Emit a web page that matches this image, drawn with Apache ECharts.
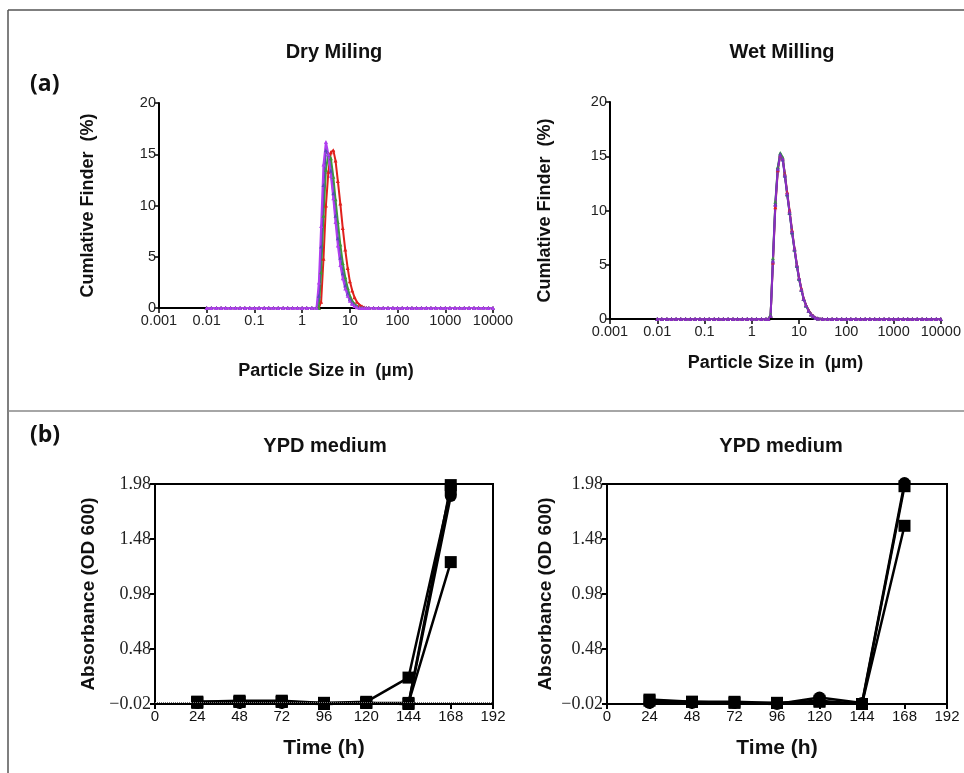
<!DOCTYPE html>
<html><head><meta charset="utf-8">
<script src="https://cdn.jsdelivr.net/npm/echarts@6/dist/echarts.min.js"></script>
<style>html,body{margin:0;padding:0;background:#fff}#c{width:964px;height:773px}</style>
</head><body><div id="c"></div>
<script>
// ---- particle size classes (µm) ----
const sizes = [
  0.01,0.0125,0.016,0.02,0.025,0.0315,0.04,0.05,0.063,0.08,
  0.1,0.125,0.16,0.2,0.25,0.315,0.4,0.5,0.63,0.8,
  1,1.25,1.6,
  2,2.24,2.5,2.8,3.15,3.55,4,4.5,5,5.6,6.3,7.1,8,9,
  10,11.2,12.5,14,16,18,20,22.4,
  25,31.5,40,50,63,80,
  100,125,160,200,250,315,400,500,630,800,
  1000,1250,1600,2000,2500,3150,4000,5000,6300,8000,
  10000
];
// ---- Dry milling (%) ----
const dryRed = [
  0,0,0,0,0,0,0,0,0,0, 0,0,0,0,0,0,0,0,0,0, 0,0,0,
  0,0,0.6,4.8,10.0,13.3,15.2,15.4,14.4,12.4,10.2,7.8,5.7,3.9,
  2.6,1.7,1.05,0.6,0.3,0.15,0.06,0,
  0,0,0,0,0,0, 0,0,0,0,0,0,0,0,0,0, 0,0,0,0,0,0,0,0,0,0, 0
];
const dryGreen = [
  0,0,0,0,0,0,0,0,0,0, 0,0,0,0,0,0,0,0,0,0, 0,0,0,
  0,0,3.5,9.0,13.5,15.0,14.6,12.8,10.6,8.4,6.2,4.4,3.0,1.95,
  1.2,0.7,0.4,0.2,0.08,0.03,0,0,
  0,0,0,0,0,0, 0,0,0,0,0,0,0,0,0,0, 0,0,0,0,0,0,0,0,0,0, 0
];
const dryBlue = [
  0,0,0,0,0,0,0,0,0,0, 0,0,0,0,0,0,0,0,0,0, 0,0,0,
  0,1.2,6.0,12.0,15.4,15.0,13.4,11.2,9.0,6.8,4.9,3.4,2.2,1.4,
  0.85,0.5,0.27,0.12,0.05,0,0,0,
  0,0,0,0,0,0, 0,0,0,0,0,0,0,0,0,0, 0,0,0,0,0,0,0,0,0,0, 0
];
const dryPurple = [
  0,0,0,0,0,0,0,0,0,0, 0,0,0,0,0,0,0,0,0,0, 0,0,0,
  0,2.5,8.0,14.0,16.2,15.0,12.9,10.7,8.4,6.1,4.2,2.9,1.9,1.2,
  0.7,0.4,0.2,0.08,0.03,0,0,0,
  0,0,0,0,0,0, 0,0,0,0,0,0,0,0,0,0, 0,0,0,0,0,0,0,0,0,0, 0
];
// ---- Wet milling (%) ----
const wetRed = [
  0,0,0,0,0,0,0,0,0,0, 0,0,0,0,0,0,0,0,0,0, 0,0,0,
  0,0,0.3,5.2,10.3,13.7,15.1,14.8,13.4,11.7,10.0,8.2,6.5,5.0,
  3.8,2.8,1.9,1.3,0.8,0.45,0.28,0.12,
  0.05,0,0,0,0,0, 0,0,0,0,0,0,0,0,0,0, 0,0,0,0,0,0,0,0,0,0, 0
];
const wetGreen = [
  0,0,0,0,0,0,0,0,0,0, 0,0,0,0,0,0,0,0,0,0, 0,0,0,
  0,0,0.4,5.6,10.8,14.0,15.3,14.9,13.3,11.5,9.8,8.0,6.4,4.9,
  3.7,2.7,1.85,1.25,0.75,0.42,0.25,0.1,
  0.04,0,0,0,0,0, 0,0,0,0,0,0,0,0,0,0, 0,0,0,0,0,0,0,0,0,0, 0
];
const wetBlue = [
  0,0,0,0,0,0,0,0,0,0, 0,0,0,0,0,0,0,0,0,0, 0,0,0,
  0,0,0.3,5.4,10.6,13.9,15.2,14.7,13.2,11.5,9.8,8.0,6.4,4.9,
  3.7,2.7,1.85,1.25,0.75,0.42,0.25,0.1,
  0.04,0,0,0,0,0, 0,0,0,0,0,0,0,0,0,0, 0,0,0,0,0,0,0,0,0,0, 0
];
const wetPurple = [
  0,0,0,0,0,0,0,0,0,0, 0,0,0,0,0,0,0,0,0,0, 0,0,0,
  0,0,0.3,5.3,10.5,13.8,15.1,14.8,13.3,11.6,9.9,8.1,6.5,5.0,
  3.8,2.75,1.9,1.3,0.78,0.44,0.26,0.11,
  0.05,0,0,0,0,0, 0,0,0,0,0,0,0,0,0,0, 0,0,0,0,0,0,0,0,0,0, 0
];
// ---- YPD growth (OD 600) ----
const timeH = [24,48,72,96,120,144,168];
const ypdL1 = [0.00,0.01,0.01,-0.01,0.00,0.22,1.93];
const ypdL2 = [-0.01,-0.01,-0.01,-0.02,-0.01,-0.02,1.87];
const ypdL3 = [0.00,0.00,0.00,-0.01,-0.01,-0.02,1.97];
const ypdL4 = [-0.01,0.00,0.00,-0.02,-0.01,-0.01,1.27];
const ypdR1 = [0.01,0.00,0.00,-0.01,0.00,-0.02,1.96];
const ypdR2 = [-0.01,-0.01,-0.01,-0.02,0.04,-0.01,1.99];
const ypdR3 = [0.02,0.00,-0.01,-0.01,0.01,-0.02,1.60];
const odTicks = [-0.02,0.48,0.98,1.48,1.98];

const SANS = 'Liberation Sans, Arial, sans-serif';
const SERIF = 'Liberation Serif, Times New Roman, serif';

const chart = echarts.init(document.getElementById('c'), null, {renderer:'canvas'});

function pairs(xs, ys){ return xs.map((x,i)=>[x, ys[i]]); }

function logX(gridIndex, nameGap){
  return {
    type:'log', logBase:10, min:0.001, max:10000, gridIndex,
    axisLine:{show:true, lineStyle:{color:'#000', width:2}},
    axisTick:{show:true, length:5, lineStyle:{color:'#000', width:1.5}},
    axisLabel:{color:'#222', fontSize:14.5, fontFamily:SANS, margin:5,
      formatter: v => String(+(+v).toPrecision(4))},
    splitLine:{show:false}, minorTick:{show:false},
    name:'Particle Size in  (µm)', nameLocation:'middle', nameGap,
    nameTextStyle:{fontFamily:SANS, fontWeight:'bold', fontSize:18, color:'#111'}
  };
}
function pctY(gridIndex, nameGap){
  return {
    type:'value', min:0, max:20, interval:5, gridIndex,
    axisLine:{show:true, lineStyle:{color:'#000', width:2}},
    axisTick:{show:true, length:5, lineStyle:{color:'#000', width:1.5}},
    axisLabel:{color:'#222', fontSize:14.5, fontFamily:SANS, margin:3},
    splitLine:{show:false},
    name:'Cumlative Finder  (%)', nameLocation:'middle', nameGap, nameRotate:90,
    nameTextStyle:{fontFamily:SANS, fontWeight:'bold', fontSize:18, color:'#111'}
  };
}
function timeX(gridIndex){
  return {
    type:'value', min:0, max:192, interval:24, gridIndex,
    axisLine:{show:true, onZero:false, lineStyle:{color:'#000', width:2}},
    axisTick:{show:true, length:5, lineStyle:{color:'#000', width:2}},
    axisLabel:{color:'#111', fontSize:15, fontFamily:SANS, margin:5},
    splitLine:{show:false},
    name:'Time (h)', nameLocation:'middle', nameGap:34,
    nameTextStyle:{fontFamily:SANS, fontWeight:'bold', fontSize:21, color:'#111'}
  };
}
function odY(gridIndex, nameGap){
  return {
    type:'value', min:-0.02, max:1.98, interval:0.5, gridIndex,
    axisLine:{show:true, lineStyle:{color:'#000', width:2}},
    axisTick:{show:true, length:5, lineStyle:{color:'#000', width:2}, customValues:odTicks},
    axisLabel:{color:'#222', fontSize:18, fontFamily:SERIF, margin:4, customValues:odTicks,
      formatter: v => (v < 0 ? '\u2212' : '') + Math.abs(v).toFixed(2)},
    splitLine:{show:false},
    name:'Absorbance (OD 600)', nameLocation:'middle', nameGap, nameRotate:90,
    nameTextStyle:{fontFamily:SANS, fontWeight:'bold', fontSize:19, color:'#111'}
  };
}
function psdSeries(xi, arr, color){
  return {type:'line', xAxisIndex:xi, yAxisIndex:xi, data:pairs(sizes, arr),
    symbol:'triangle', symbolSize:4, showSymbol:true,
    lineStyle:{color, width:2}, itemStyle:{color}, z:3};
}
function odSeries(xi, arr, sym, extra){
  return Object.assign({type:'line', xAxisIndex:xi, yAxisIndex:xi, data:pairs(timeH, arr),
    symbol:sym, symbolSize:12, clip:false,
    lineStyle:{color:'#000', width:2.5}, itemStyle:{color:'#000'}, z:4}, extra||{});
}

const titleStyle = {fontFamily:SANS, fontWeight:'bold', fontSize:20, color:'#111'};
const option = {
  animation:false,
  backgroundColor:'#fff',
  title:[
    {text:'Dry Miling', left:329, top:37, textAlign:'center', textStyle:titleStyle},
    {text:'Wet Milling', left:777, top:37, textAlign:'center', textStyle:titleStyle},
    {text:'YPD medium', left:320, top:431, textAlign:'center', textStyle:titleStyle},
    {text:'YPD medium', left:776, top:431, textAlign:'center', textStyle:titleStyle}
  ],
  grid:[
    {left:159, top:103, width:334, height:205},
    {left:610, top:102, width:336, height:217},
    {left:155, top:484, width:338, height:220, show:true, borderColor:'#000', borderWidth:2},
    {left:607, top:484, width:340, height:220, show:true, borderColor:'#000', borderWidth:2}
  ],
  xAxis:[logX(0, 54), logX(1, 35), timeX(2), timeX(3)],
  yAxis:[pctY(0, 62), pctY(1, 56), odY(2, 57), odY(3, 52)],
  series:[
    psdSeries(0, dryRed, '#e0201c'),
    psdSeries(0, dryGreen, '#3c9a3c'),
    psdSeries(0, dryBlue, '#5a4ab8'),
    psdSeries(0, dryPurple, '#b03ef0'),
    psdSeries(1, wetRed, '#e0201c'),
    psdSeries(1, wetGreen, '#3c9a3c'),
    psdSeries(1, wetBlue, '#4a48a8'),
    psdSeries(1, wetPurple, '#8a2cc0'),
    odSeries(2, ypdL1, 'rect', {markLine:{silent:true, symbol:'none', label:{show:false},
      lineStyle:{type:'dotted', color:'#777', width:1}, data:[{yAxis:0}]}}),
    odSeries(2, ypdL2, 'circle'),
    odSeries(2, ypdL3, 'rect'),
    odSeries(2, ypdL4, 'rect'),
    odSeries(3, ypdR1, 'rect'),
    odSeries(3, ypdR2, 'circle'),
    odSeries(3, ypdR3, 'rect')
  ],
  graphic:[
    {type:'line', shape:{x1:8, y1:10, x2:964, y2:10}, style:{stroke:'#555', lineWidth:1.5}},
    {type:'line', shape:{x1:8, y1:10, x2:8, y2:773}, style:{stroke:'#555', lineWidth:1.5}},
    {type:'line', shape:{x1:8, y1:411, x2:964, y2:411}, style:{stroke:'#888', lineWidth:1.5}},
    {type:'text', left:30, top:73, style:{text:'(a)', fontFamily:'Open Sans, Liberation Sans, sans-serif', fontWeight:'bold', fontSize:23, fill:'#111'}},
    {type:'text', left:30, top:424, style:{text:'(b)', fontFamily:'Open Sans, Liberation Sans, sans-serif', fontWeight:'bold', fontSize:23, fill:'#111'}}
  ]
};
chart.setOption(option);
</script></body></html>
